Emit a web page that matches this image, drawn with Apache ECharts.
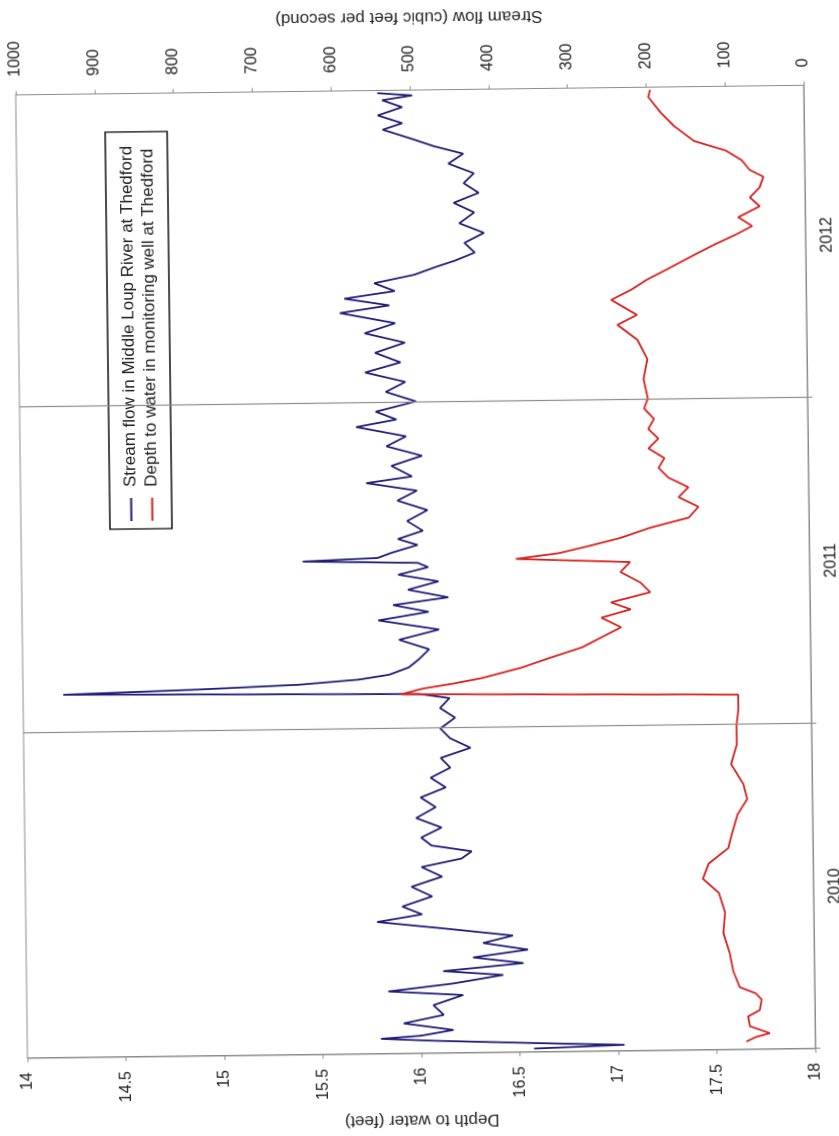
<!DOCTYPE html>
<html>
<head>
<meta charset="utf-8">
<script src="https://cdn.jsdelivr.net/npm/echarts@6/dist/echarts.min.js"></script>
<style>
  html, body { margin: 0; padding: 0; background: #fff; overflow: hidden; }
  body { width: 839px; height: 1136px; position: relative; }
  /* The chart is laid out landscape and turned to stand on its side. */
  #chart {
    position: absolute;
    left: -148.5px; top: 148.5px;
    width: 1136px; height: 839px;
    transform: rotate(-90.7deg);
    transform-origin: 50% 50%;
  }
</style>
</head>
<body>
<div id="chart"></div>
<script>
// Time is counted in days since 1 January 2010.
const yearLabels = ['2010', '2011', '2012'];
const yearLabelDays = [182, 547, 912];
const yearBoundaryDays = [365, 730];

// Stream flow in Middle Loup River at Thedford (cubic feet per second)
const flowDays = [4, 7, 10, 14, 17, 20, 26, 34, 43, 54, 65, 70, 78, 87, 92, 100, 107, 115, 123, 131, 140, 148, 156, 165, 176, 187, 198, 209, 218, 226, 233, 242, 253, 264, 276, 287, 298, 309, 320, 331, 342, 353, 364, 376, 387, 398, 403, 407, 411, 415, 420, 425, 433, 442, 453, 464, 475, 486, 495, 503, 511, 520, 529, 537, 545, 550, 553, 556, 562, 570, 577, 586, 597, 609, 620, 631, 640, 647, 659, 670, 681, 692, 703, 711, 720, 731, 742, 753, 764, 775, 786, 797, 808, 819, 831, 839, 847, 855, 864, 873, 881, 888, 897, 908, 919, 930, 942, 953, 964, 975, 986, 997, 1008, 1017, 1025, 1036, 1043, 1052, 1061, 1069, 1074, 1077];
const flowCfs = [357, 242, 350, 480, 551, 500, 459, 522, 471, 484, 446, 541, 459, 395, 471, 369, 433, 363, 420, 382, 471, 554, 497, 522, 484, 510, 471, 497, 446, 433, 484, 497, 471, 503, 478, 497, 465, 484, 459, 471, 433, 459, 471, 452, 471, 459, 497, 949, 777, 650, 573, 535, 510, 497, 484, 522, 471, 548, 484, 529, 459, 510, 471, 522, 484, 497, 643, 548, 529, 497, 522, 490, 510, 484, 522, 497, 561, 503, 529, 490, 535, 510, 573, 522, 548, 497, 535, 510, 561, 516, 548, 510, 561, 522, 592, 529, 586, 522, 548, 497, 471, 446, 420, 433, 408, 439, 420, 446, 414, 433, 420, 452, 433, 471, 497, 535, 510, 541, 510, 535, 497, 541];

// Depth to water in monitoring well at Thedford (feet)
const depthDays = [9, 14, 18, 26, 37, 44, 56, 63, 70, 87, 109, 131, 154, 176, 192, 209, 226, 242, 264, 281, 298, 320, 342, 364, 381, 398, 403, 409, 414, 420, 431, 442, 453, 464, 475, 486, 495, 503, 514, 525, 537, 548, 553, 559, 567, 575, 586, 597, 609, 620, 631, 642, 653, 664, 675, 686, 697, 708, 720, 731, 753, 775, 797, 814, 825, 842, 853, 864, 875, 892, 903, 914, 923, 933, 945, 955, 966, 978, 986, 997, 1008, 1019, 1036, 1052, 1069, 1077];
const depthFt = [17.65, 17.70, 17.77, 17.67, 17.66, 17.72, 17.73, 17.70, 17.62, 17.59, 17.57, 17.54, 17.55, 17.52, 17.44, 17.47, 17.57, 17.59, 17.62, 17.67, 17.65, 17.59, 17.62, 17.62, 17.63, 17.63, 15.92, 16.03, 16.18, 16.33, 16.53, 16.68, 16.84, 16.94, 17.04, 16.94, 17.09, 16.99, 17.19, 17.14, 17.04, 17.09, 16.51, 16.73, 16.89, 17.04, 17.19, 17.39, 17.44, 17.34, 17.39, 17.29, 17.24, 17.27, 17.19, 17.24, 17.19, 17.22, 17.17, 17.19, 17.17, 17.19, 17.14, 17.04, 17.14, 17.01, 17.11, 17.19, 17.29, 17.44, 17.54, 17.65, 17.73, 17.66, 17.77, 17.72, 17.77, 17.79, 17.72, 17.68, 17.60, 17.44, 17.34, 17.27, 17.21, 17.22];

const pair = (xs, ys) => xs.map((x, i) => [x, ys[i]]);

const FONT = '"Liberation Sans", Arial, sans-serif';
const INK = '#222';
const AXIS_GREY = '#8c8c8c';

const chart = echarts.init(document.getElementById('chart'), null, { renderer: 'canvas' });

chart.setOption({
  animation: false,
  backgroundColor: '#fff',
  textStyle: { fontFamily: FONT, color: INK },
  grid: {
    left: 81, right: 84, top: 21, bottom: 28,
    show: true, borderColor: AXIS_GREY, borderWidth: 1, backgroundColor: 'transparent'
  },
  legend: {
    orient: 'vertical',
    left: 611, top: 110,
    padding: [13, 14, 11, 8],
    itemGap: 4,
    itemWidth: 23, itemHeight: 2,
    icon: 'rect',
    borderColor: '#111', borderWidth: 1.3,
    backgroundColor: '#fff',
    textStyle: { fontFamily: FONT, fontSize: 17, color: INK, lineHeight: 17, padding: [0, 0, 0, 6] },
    data: ['Stream flow in Middle Loup River at Thedford', 'Depth to water in monitoring well at Thedford']
  },
  xAxis: {
    type: 'value',
    min: 0, max: 1080,
    axisLine: { show: true, lineStyle: { color: AXIS_GREY, width: 1 } },
    axisTick: { show: true, length: 5, customValues: [0].concat(yearBoundaryDays), lineStyle: { color: AXIS_GREY } },
    splitLine: { show: false },
    axisLabel: {
      customValues: yearLabelDays,
      margin: 14,
      fontSize: 16, color: INK, fontFamily: FONT,
      formatter: v => yearLabels[yearLabelDays.indexOf(v)] || ''
    }
  },
  yAxis: [
    {
      type: 'value',
      inverse: true,
      min: 14, max: 18, interval: 0.5,
      name: 'Depth to water (feet)',
      nameLocation: 'middle', nameGap: 58, nameRotate: 90,
      nameTextStyle: { fontSize: 17, color: INK, fontFamily: FONT },
      axisLine: { show: true, lineStyle: { color: AXIS_GREY } },
      axisTick: { show: true, length: 4, lineStyle: { color: AXIS_GREY } },
      splitLine: { show: false },
      axisLabel: { fontSize: 16, color: INK, fontFamily: FONT, margin: 14, formatter: v => String(v) }
    },
    {
      type: 'value',
      min: 0, max: 1000, interval: 100,
      position: 'right',
      name: 'Stream flow (cubic feet per second)',
      nameLocation: 'middle', nameGap: 60, nameRotate: 90,
      nameTextStyle: { fontSize: 17, color: INK, fontFamily: FONT },
      axisLine: { show: true, lineStyle: { color: AXIS_GREY } },
      axisTick: { show: true, length: 4, lineStyle: { color: AXIS_GREY } },
      splitLine: { show: false },
      axisLabel: { fontSize: 16, color: INK, fontFamily: FONT, margin: 18, formatter: v => String(v) }
    }
  ],
  series: [
    {
      name: 'Stream flow in Middle Loup River at Thedford',
      type: 'line',
      yAxisIndex: 1,
      data: pair(flowDays, flowCfs),
      showSymbol: false,
      lineStyle: { color: '#1f1d78', width: 1.8 },
      itemStyle: { color: '#1f1d78' },
      z: 3
    },
    {
      name: 'Depth to water in monitoring well at Thedford',
      type: 'line',
      yAxisIndex: 0,
      data: pair(depthDays, depthFt),
      showSymbol: false,
      lineStyle: { color: '#d8201e', width: 1.8 },
      itemStyle: { color: '#d8201e' },
      z: 4,
      markLine: {
        silent: true,
        symbol: ['none', 'none'],
        label: { show: false },
        lineStyle: { color: AXIS_GREY, type: 'solid', width: 1.2 },
        data: yearBoundaryDays.map(d => ({ xAxis: d }))
      }
    }
  ]
});
</script>
</body>
</html>
